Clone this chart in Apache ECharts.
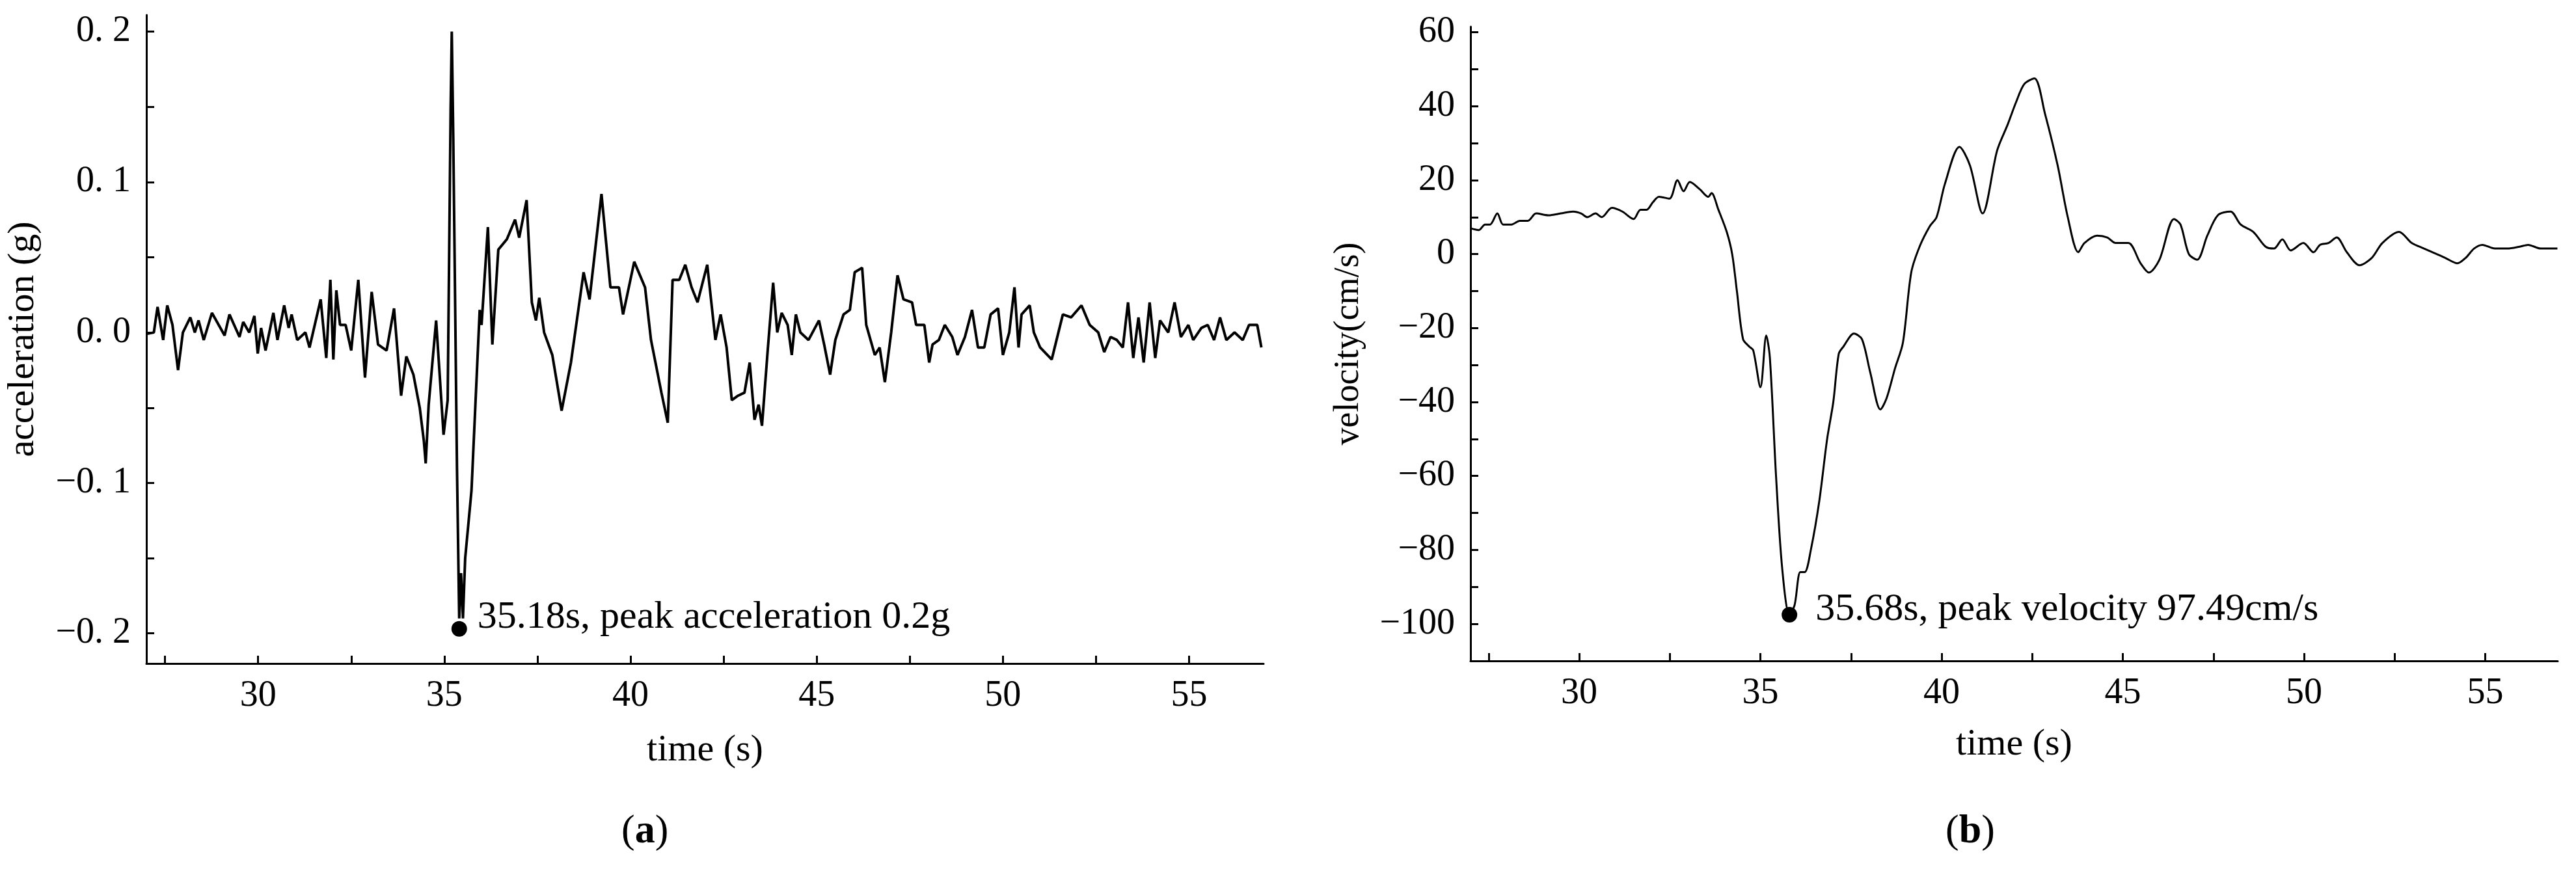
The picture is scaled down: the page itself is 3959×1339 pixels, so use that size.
<!DOCTYPE html>
<html><head><meta charset="utf-8">
<script src="https://cdn.jsdelivr.net/npm/echarts@6/dist/echarts.min.js"></script>
<style>html,body{margin:0;background:#fff}#c{width:3959px;height:1339px}</style>
</head><body><div id="c"></div>
<script>
const accTime = [27.0,27.2,27.3,27.45,27.56,27.7,27.85,27.98,28.18,28.3,28.4,28.54,28.76,29.1,29.23,29.5,29.6,29.76,29.9,29.99,30.08,30.2,30.41,30.52,30.7,30.82,30.9,31.05,31.27,31.38,31.68,31.83,31.94,32.02,32.1,32.2,32.35,32.5,32.69,32.87,33.05,33.22,33.45,33.65,33.84,33.98,34.17,34.34,34.45,34.5,34.58,34.78,34.98,35.09,35.17,35.2,35.24,35.34,35.4,35.45,35.5,35.56,35.73,35.95,36.0,36.17,36.29,36.45,36.68,36.9,37.01,37.21,37.35,37.46,37.55,37.68,37.9,38.15,38.4,38.74,38.9,39.22,39.46,39.69,39.8,40.1,40.39,40.55,40.83,41.0,41.13,41.31,41.47,41.64,41.8,42.06,42.28,42.42,42.58,42.72,42.89,43.06,43.2,43.33,43.44,43.53,43.69,43.83,43.94,44.06,44.22,44.33,44.44,44.56,44.78,45.06,45.2,45.36,45.5,45.72,45.89,46.02,46.22,46.33,46.56,46.69,46.83,47.0,47.17,47.33,47.56,47.67,47.89,48.02,48.11,48.28,48.44,48.64,48.78,48.98,49.17,49.33,49.5,49.67,49.87,50.0,50.17,50.31,50.42,50.5,50.72,50.83,51.0,51.31,51.61,51.83,52.11,52.33,52.56,52.72,52.89,53.06,53.22,53.36,53.5,53.64,53.78,53.94,54.09,54.22,54.44,54.61,54.78,54.98,55.11,55.33,55.5,55.67,55.83,56.0,56.22,56.44,56.61,56.83,56.94];
const accValue = [-0.001,0.0,0.017,-0.005,0.018,0.005,-0.025,0.0,0.01,0.0,0.008,-0.005,0.013,-0.002,0.012,-0.003,0.007,0.0,0.011,-0.014,0.003,-0.012,0.013,-0.005,0.018,0.003,0.012,-0.005,0.0,-0.01,0.022,-0.017,0.035,-0.018,0.028,0.005,0.005,-0.012,0.035,-0.03,0.027,-0.008,-0.012,0.016,-0.042,-0.016,-0.028,-0.05,-0.072,-0.087,-0.048,0.008,-0.068,-0.045,0.15,0.2,0.13,-0.09,-0.19,-0.16,-0.19,-0.15,-0.105,0.015,0.005,0.07,-0.008,0.055,0.062,0.075,0.063,0.088,0.02,0.008,0.023,0.0,-0.015,-0.052,-0.02,0.04,0.022,0.092,0.03,0.03,0.012,0.047,0.03,-0.005,-0.04,-0.06,0.035,0.035,0.045,0.03,0.02,0.045,-0.005,0.012,-0.01,-0.045,-0.042,-0.04,-0.02,-0.058,-0.048,-0.062,-0.01,0.033,0.0,0.013,0.005,-0.015,0.012,0.0,-0.005,0.008,-0.008,-0.028,-0.005,0.012,0.015,0.04,0.043,0.005,-0.015,-0.01,-0.033,0.0,0.038,0.022,0.02,0.005,0.005,-0.02,-0.008,-0.005,0.005,-0.003,-0.015,-0.003,0.015,-0.01,-0.01,0.012,0.016,-0.015,0.0,0.03,-0.01,0.012,0.018,0.0,-0.01,-0.018,0.012,0.01,0.018,0.005,0.0,-0.013,-0.003,-0.005,-0.01,0.02,-0.017,0.01,-0.02,0.02,-0.017,0.008,0.0,0.02,-0.003,0.005,-0.005,0.003,0.005,-0.005,0.01,-0.005,0.0,-0.005,0.005,0.005,-0.01];
const velTime = [27.0,27.23,27.4,27.54,27.74,27.9,28.13,28.36,28.58,28.81,29.15,29.49,29.83,30.05,30.22,30.45,30.62,30.9,31.19,31.5,31.69,31.86,32.03,32.2,32.49,32.71,32.88,33.05,33.33,33.56,33.65,33.84,34.07,34.22,34.35,34.52,34.69,34.8,35.0,35.16,35.26,35.43,35.6,35.8,35.94,36.1,36.22,36.39,36.62,36.84,37.01,37.16,37.29,37.58,37.8,38.03,38.31,38.48,38.71,38.93,39.16,39.39,39.67,39.86,40.09,40.49,40.78,41.13,41.53,41.82,42.05,42.28,42.56,42.85,43.2,43.48,43.77,43.94,44.29,44.57,44.8,45.15,45.49,45.72,46.01,46.41,46.59,46.82,47.05,47.33,47.62,47.97,48.25,48.6,48.94,49.17,49.4,49.63,49.98,50.26,50.44,50.67,50.9,51.18,51.53,51.87,52.16,52.62,52.97,53.31,53.66,53.89,54.23,54.46,54.69,54.92,55.26,55.61,55.95,56.18,56.53,56.99];
const velValue = [7,6.5,8,8,11,8,8,9,9,11,10.5,11,11.5,11,10,11,10,12.5,11.5,9.5,12,12,14,15.5,15,20,17,19.5,17.5,15.5,16.5,12,6,0,-10,-23,-25,-26,-36,-22,-28,-60,-85,-97.5,-95,-86,-86,-80,-67,-50,-40,-27,-25,-21.5,-23,-32,-42,-39,-31,-24,-5,2,7.5,10,19,29,24,11,28,35,41,46,47.5,38,24,10,0.5,3,5,4.5,3,3,-2.5,-5,-1.5,9.5,8,0,-1.5,5,10.5,11.5,8,6,2,1.5,4,1,3,0.5,2.5,3,4.5,0.5,-3,-1,3,6,3,1.5,0,-1,-2.5,-1,1.5,2.5,1.5,1.5,2,2.5,1.5,1.5];
const accPeak = [35.4, -0.197];
const velPeak = [35.8, -97.5];
const accPeakText = '35.18s, peak acceleration 0.2g';
const velPeakText = '35.68s, peak velocity 97.49cm/s';
const xTicks = [27.5,30,32.5,35,37.5,40,42.5,45,47.5,50,52.5,55];
const xLabels = [30,35,40,45,50,55];
const accTicks = [-0.2,-0.15,-0.1,-0.05,0,0.05,0.1,0.15,0.2];
const accLabels = [-0.2,-0.1,0,0.1,0.2];
const velTicks = [-100,-90,-80,-70,-60,-50,-40,-30,-20,-10,0,10,20,30,40,50,60];
const velLabels = [-100,-80,-60,-40,-20,0,20,40,60];

const F = 'Liberation Serif';
const axLine = {show:true,onZero:false,lineStyle:{color:'#000',width:3}};
const tick = vals => ({show:true,inside:true,length:12,customValues:vals,lineStyle:{color:'#000',width:3}});
function xAxis(i, gap){return {type:'value',gridIndex:i,min:27,max:57,name:'time (s)',nameLocation:'middle',nameGap:gap,
  nameTextStyle:{fontFamily:F,fontSize:58,color:'#000'},axisLine:axLine,axisTick:tick(xTicks),splitLine:{show:false},
  axisLabel:{customValues:xLabels,fontFamily:F,fontSize:56,color:'#000',margin:22}};}
const accFmt = v => { const s = Math.abs(v).toFixed(1).replace('.', '. '); return (v < -1e-9 ? '\u2212' : '') + s; };
const velFmt = v => (v < 0 ? '\u2212' + Math.abs(v) : String(v));
const lbl = {fontFamily:F,fontSize:60,color:'#000',opacity:1};

const chart = echarts.init(document.getElementById('c'));
chart.setOption({
  animation:false,
  grid:[{left:225,right:2017,top:23,bottom:319},{left:2260,right:28,top:41,bottom:323}],
  xAxis:[xAxis(0,105),xAxis(1,100)],
  yAxis:[
    {type:'value',gridIndex:0,min:-0.22,max:0.211,name:'acceleration (g)',nameLocation:'middle',nameGap:160,
     nameTextStyle:{fontFamily:F,fontSize:58,color:'#000'},axisLine:axLine,axisTick:tick(accTicks),splitLine:{show:false},
     axisLabel:{customValues:accLabels,formatter:accFmt,fontFamily:F,fontSize:56,color:'#000',margin:24}},
    {type:'value',gridIndex:1,min:-110,max:61.5,name:'velocity(cm/s)',nameLocation:'middle',nameGap:160,
     nameTextStyle:{fontFamily:F,fontSize:54,color:'#000'},axisLine:axLine,axisTick:tick(velTicks),splitLine:{show:false},
     axisLabel:{customValues:velLabels,formatter:velFmt,fontFamily:F,fontSize:56,color:'#000',margin:24}}
  ],
  series:[
    {type:'line',xAxisIndex:0,yAxisIndex:0,data:accTime.map((t,i)=>[t,accValue[i]]),showSymbol:false,lineStyle:{color:'#000',width:4}},
    {type:'line',xAxisIndex:1,yAxisIndex:1,data:velTime.map((t,i)=>[t,velValue[i]]),showSymbol:false,smooth:0.3,lineStyle:{color:'#000',width:3}},
    {type:'scatter',xAxisIndex:0,yAxisIndex:0,data:[accPeak],symbolSize:24,itemStyle:{color:'#000',opacity:1},
     label:{show:true,position:'right',distance:16,formatter:accPeakText,offset:[0,-18],...lbl}},
    {type:'scatter',xAxisIndex:1,yAxisIndex:1,data:[velPeak],symbolSize:24,itemStyle:{color:'#000',opacity:1},
     label:{show:true,position:'right',distance:28,formatter:velPeakText,offset:[0,-8],...lbl}}
  ],
  graphic:[
    {type:'text',left:955,top:1248,style:{text:'({b|a})',rich:{b:{fontWeight:'bold',fontFamily:F,fontSize:62}},fontFamily:F,fontSize:62,fill:'#000'}},
    {type:'text',left:2990,top:1248,style:{text:'({b|b})',rich:{b:{fontWeight:'bold',fontFamily:F,fontSize:62}},fontFamily:F,fontSize:62,fill:'#000'}}
  ]
});
</script></body></html>
